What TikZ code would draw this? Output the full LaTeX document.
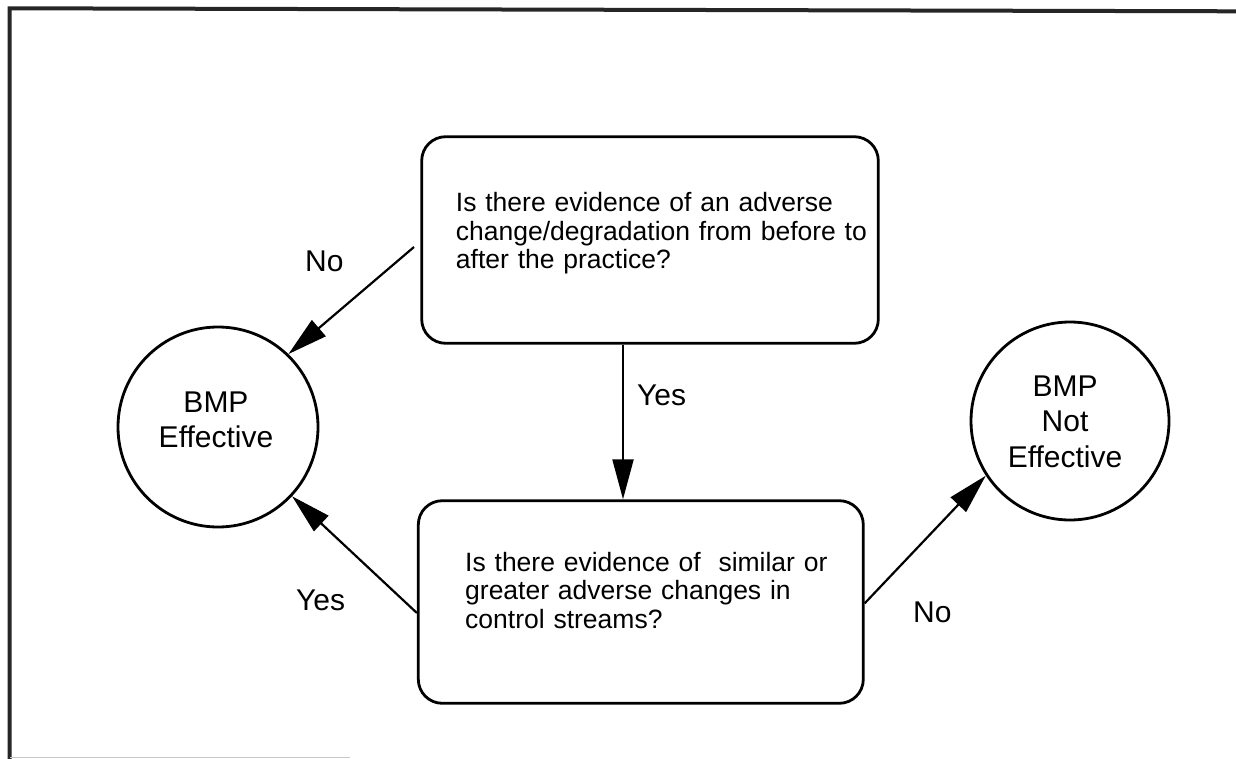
\documentclass[tikz,border=0pt]{standalone}
\usepackage{fontspec}
\setmainfont{Liberation Sans}
\usetikzlibrary{arrows.meta,calc}
\begin{document}
\begin{tikzpicture}[x=1pt,y=-1pt,
  box/.style={draw=black,line width=2.8pt,rounded corners=24pt,inner sep=0pt},
  circ/.style={draw=black,line width=2.8pt,circle,inner sep=0pt},
  arr/.style={draw=black,line width=2.2pt,-{Triangle[length=40pt,width=21pt]}},
  btxt/.style={inner sep=0pt,anchor=base west,align=left,font=\fontsize{26.5}{28.5}\selectfont},
  ctxt/.style={inner sep=0pt,anchor=base,align=center,font=\fontsize{30}{35.7}\selectfont},
  lbl/.style={inner sep=0pt,anchor=base west,font=\fontsize{30}{36}\selectfont},
  frame/.style={line width=4pt,black!85}]
\useasboundingbox (0,0) rectangle (1236,759);
\fill[white] (0,0) rectangle (1236,759);
% frame
\draw[frame] (9.5,759) -- (9.5,8.3) -- (1236,11.3);
\draw[line width=1.5pt,black!22] (9.5,757.5) -- (350,757.5);
% shapes
\node[box,minimum width=456.6pt,minimum height=206.6pt] (top) at (650,240) {};
\node[box,minimum width=445pt,minimum height=202.6pt] (bot) at (640.8,602) {};
\node[circ,minimum size=200pt] (eff) at (218,427) {};
\node[circ,minimum size=198pt] (nef) at (1070,421) {};
% texts
\node[btxt,text width=430pt] (toptext) at (455.7,211.7) {Is there evidence of an adverse\\change/degradation from before to\\after the practice?};
\node[btxt,text width=400pt] (bottext) at (465,571) {Is there evidence of~ similar or\\greater adverse changes in\\control streams?};
\node[ctxt,text width=150pt] (efftext) at (216,412) {BMP\\Effective};
\node[ctxt,text width=150pt] (neftext) at (1065,396) {BMP\\Not\\Effective};
% connectors
\coordinate (s1) at (414,247);
\coordinate (vx) at (623,0);
\coordinate (ly) at (0,613);
\coordinate (ry) at (0,603.3);
\draw[arr] (s1) -- (eff.46.7);
\draw[arr] (top.south -| vx) -- (bot.north -| vx);
\draw[arr] (bot.west |- ly) -- (eff);
\draw[arr] (bot.east |- ry) -- (nef.213);
% labels
\node[lbl] (no1) at (305,272) {No};
\node[lbl] (yes1) at (637,405) {Yes};
\node[lbl] (yes2) at (296,610) {Yes};
\node[lbl] (no2) at (913,622.7) {No};
\end{tikzpicture}
\end{document}
